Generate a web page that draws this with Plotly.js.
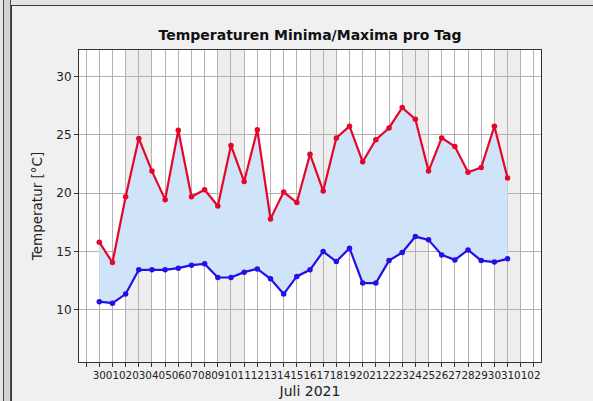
<!DOCTYPE html>
<html>
<head>
<meta charset="utf-8">
<script src="https://cdn.plot.ly/plotly-3.0.1.min.js"></script>
<style>
  html, body { margin:0; padding:0; width:593px; height:401px; overflow:hidden; background:#e4e4e4; font-family:"DejaVu Sans", sans-serif; }
  #strip { position:absolute; left:0; top:0; width:10px; height:401px; background:#e6e6e6; }
  #stripInner { position:absolute; left:3px; top:0; width:6px; height:401px; background:#d2d2d2; border-left:1px solid #4a4a4a; border-right:1px solid #4a4a4a; }
  #panel { position:absolute; left:11px; top:5px; width:582px; height:396px; background:#f0f0f0; border-left:1px solid #3a3a3a; border-top:1px solid #3a3a3a; }
  #chart { position:absolute; left:0; top:0; width:593px; height:401px; }
</style>
</head>
<body>
<div id="strip"><div id="stripInner"></div></div>
<div id="panel"></div>
<div id="chart"></div>
<script>
// Day index 0..31 (labelled as on the reference axis)
const dayIndex = [0,1,2,3,4,5,6,7,8,9,10,11,12,13,14,15,16,17,18,19,20,21,22,23,24,25,26,27,28,29,30,31];
const tempMax = [15.8,14.05,19.7,24.7,21.9,19.45,25.4,19.7,20.3,18.9,24.1,21.0,25.45,17.8,20.1,19.2,23.35,20.2,24.75,25.75,22.7,24.6,25.6,27.35,26.35,21.9,24.75,24.0,21.8,22.2,25.75,21.3];
const tempMin = [10.7,10.57,11.35,13.43,13.43,13.43,13.57,13.83,13.94,12.77,12.77,13.23,13.51,12.66,11.35,12.86,13.43,15.0,14.14,15.29,12.29,12.29,14.22,14.91,16.28,16.0,14.71,14.28,15.14,14.22,14.09,14.37];
const tickVals = [-1,0,1,2,3,4,5,6,7,8,9,10,11,12,13,14,15,16,17,18,19,20,21,22,23,24,25,26,27,28,29,30,31,32,33];
const tickLabels = ["","30","01","02","03","04","05","06","07","08","09","10","11","12","13","14","15","16","17","18","19","20","21","22","23","24","25","26","27","28","29","30","31","01","02"];
const weekendStarts = [2, 9, 16, 23, 30];
const weekendLength = 2;

const shapes = weekendStarts.map(s => ({
  type:'rect', xref:'x', yref:'paper', x0:s, x1:s+weekendLength, y0:0, y1:1,
  fillcolor:'#eeeeee', line:{width:0}, layer:'below'
}));

const traces = [
  {x:dayIndex, y:tempMin, mode:'lines', line:{width:0, color:'rgba(0,0,0,0)'}, hoverinfo:'skip', showlegend:false},
  {x:dayIndex, y:tempMax, mode:'lines', line:{width:0, color:'rgba(0,0,0,0)'}, fill:'tonexty', fillcolor:'#cfe4f8', hoverinfo:'skip', showlegend:false},
  {x:dayIndex, y:tempMax, mode:'lines+markers', line:{color:'#e5062b', width:2.2}, marker:{color:'#e5062b', size:5.5}, name:'Maxima', showlegend:false},
  {x:dayIndex, y:tempMin, mode:'lines+markers', line:{color:'#2410e4', width:2.2}, marker:{color:'#2410e4', size:5.5}, name:'Minima', showlegend:false}
];

const layout = {
  width:593, height:401,
  paper_bgcolor:'rgba(0,0,0,0)', plot_bgcolor:'#ffffff',
  margin:{l:79, r:52, t:50, b:39, pad:0},
  font:{family:'DejaVu Sans, sans-serif', color:'#222', size:12},
  title:{text:'<b>Temperaturen Minima/Maxima pro Tag</b>', font:{size:14, color:'#111', family:'DejaVu Sans, sans-serif'}, x:0.5, xref:'paper', xanchor:'center', y:1-35/401, yanchor:'middle'},
  xaxis:{range:[-1.54, 33.54], tickmode:'array', tickvals:tickVals, ticktext:tickLabels,
    showgrid:true, gridcolor:'#b3b3b3', gridwidth:1, zeroline:false,
    showline:true, linecolor:'#333', linewidth:1, mirror:true,
    ticks:'outside', ticklen:4, tickcolor:'#333', tickangle:0,
    tickfont:{size:10.4, color:'#222'},
    title:{text:'Juli 2021', font:{size:14, color:'#222'}, standoff:5}, automargin:false},
  yaxis:{range:[5.52, 32.29], tickmode:'array', tickvals:[10,15,20,25,30],
    showgrid:true, gridcolor:'#b3b3b3', gridwidth:1, zeroline:false,
    showline:true, linecolor:'#333', linewidth:1, mirror:true,
    ticks:'outside', ticklen:4, tickcolor:'#333',
    tickfont:{size:12, color:'#222'},
    title:{text:'Temperatur [°C]', font:{size:13.5, color:'#222'}, standoff:10}, automargin:false},
  shapes:shapes
};

Plotly.newPlot('chart', traces, layout, {staticPlot:true, displayModeBar:false});
</script>
</body>
</html>
